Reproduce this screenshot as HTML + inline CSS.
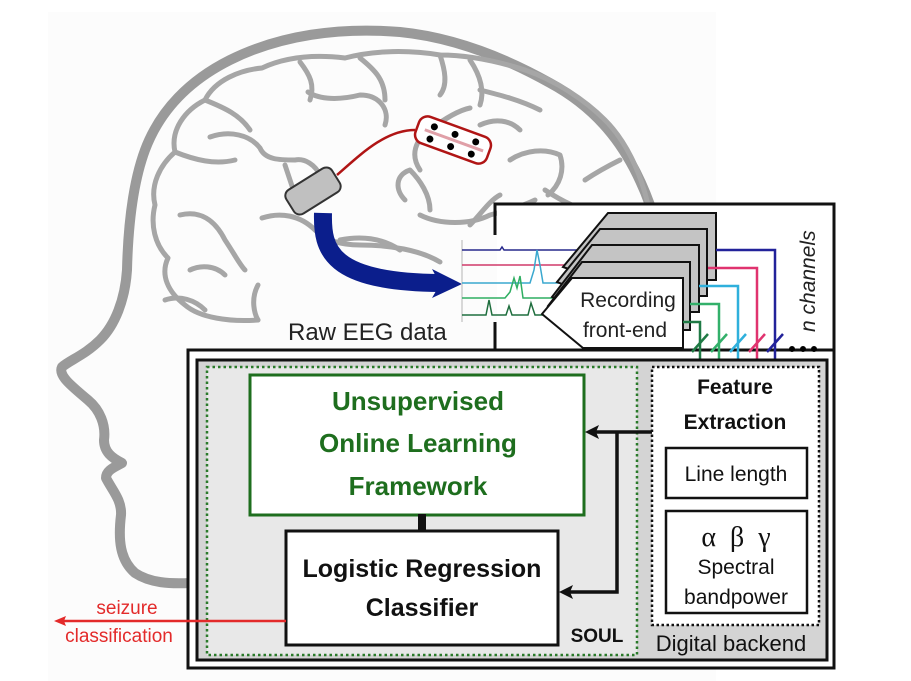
<!DOCTYPE html>
<html><head><meta charset="utf-8"><style>
html,body{margin:0;padding:0;background:#fff;}
svg{display:block;}
text{font-family:"Liberation Sans",sans-serif;}
text.serif{font-family:"Liberation Serif",serif;}
</style></head><body>
<svg width="911" height="681" viewBox="0 0 911 681" xmlns="http://www.w3.org/2000/svg">
<rect x="0" y="0" width="911" height="681" fill="#fff"/>
<rect x="48" y="12" width="668" height="669" fill="#fcfcfc"/>
<!-- head -->
<path d="M650,205 C630,150 600,110 550,83 C500,55 450,37 400,32 C340,27 280,35 230,60 C190,80 160,110 145,150 C132,185 128,230 127,270 C125,300 115,325 100,340 C85,355 70,360 62,367 C58,375 70,385 88,400 C100,410 106,425 104,440 C104,452 112,458 122,463 C115,467 106,470 106,478 C112,490 122,500 121,515 C118,540 120,560 135,573 C150,583 170,584 190,583" fill="none" stroke="#9a9a9a" stroke-width="10" stroke-linecap="round" stroke-linejoin="round"/>
<!-- brain outline -->
<g fill="none" stroke="#a6a6a6" stroke-width="5" stroke-linecap="round" stroke-linejoin="round">
<path d="M258,320 C230,322 200,318 185,305 C168,292 160,275 168,258 C155,245 150,225 155,205 C150,185 160,165 175,152 C170,130 185,110 205,100 C215,80 240,70 262,68 C290,55 320,55 345,58 C375,50 410,50 440,55 C470,55 500,62 525,70 C555,80 585,100 605,120 C625,140 640,170 648,205"/>
<path d="M258,285 C250,300 255,315 258,320"/>
<path d="M175,152 C195,160 215,165 235,160"/>
<path d="M205,100 C225,108 240,115 250,130"/>
<path d="M300,62 C310,75 315,85 310,100"/>
<path d="M308,92 C320,100 340,100 360,95 C380,95 390,110 385,125"/>
<path d="M360,58 C375,70 385,80 385,100"/>
<path d="M440,55 C445,70 448,85 440,95"/>
<path d="M470,60 C480,75 485,90 480,105"/>
<path d="M210,137 C230,130 250,135 260,148 C265,160 280,160 295,160 C305,158 315,165 320,175"/>
<path d="M285,165 C290,180 295,195 300,210"/>
<path d="M180,215 C200,210 215,220 225,240 C235,255 240,265 245,270"/>
<path d="M190,270 C200,265 215,265 225,275"/>
<path d="M165,300 C180,295 195,300 205,310"/>
<path d="M262,218 C280,212 300,215 315,230 C325,240 340,245 360,245 C390,245 420,250 440,262"/>
<path d="M340,240 C365,235 385,240 400,250"/>
<path d="M420,170 C410,155 415,140 430,130 C445,118 460,110 470,108"/>
<path d="M405,200 C395,190 395,175 410,170 C420,180 430,195 430,210"/>
<path d="M420,215 C440,225 470,225 490,215 C510,210 525,205 535,200"/>
<path d="M470,225 C480,215 490,200 500,195"/>
<path d="M480,125 C495,118 510,120 520,130"/>
<path d="M510,160 C525,150 545,148 560,155 C565,170 560,185 548,195"/>
<path d="M545,190 C560,200 580,210 600,215"/>
<path d="M585,180 C600,170 610,165 620,160"/>
<path d="M480,90 C500,95 520,100 540,110"/>
</g>
<!-- blue arrow -->
<path d="M323,213 C322,250 330,282 440,283" fill="none" stroke="#0b1e8c" stroke-width="18"/>
<polygon points="432,269 462,284 432,298 440,284" fill="#0b1e8c"/>
<!-- device -->
<g transform="translate(313,191) rotate(-32)"><rect x="-27" y="-14" width="54" height="28" rx="7" fill="#c0c0c0" stroke="#333" stroke-width="2"/></g>
<path d="M337,175 C360,155 385,130 415,130" fill="none" stroke="#b01515" stroke-width="2.5"/>
<g transform="translate(453,140) rotate(20)">
<rect x="-38" y="-14" width="76" height="28" rx="9" fill="#fff" stroke="#b01515" stroke-width="2.5"/>
<line x1="-30" y1="0" x2="32" y2="0" stroke="#e0a0a8" stroke-width="3"/>
<circle cx="-22" cy="-6" r="3.5"/><circle cx="0" cy="-6" r="3.5"/><circle cx="22" cy="-6" r="3.5"/>
<circle cx="-22" cy="7" r="3.5"/><circle cx="0" cy="7" r="3.5"/><circle cx="22" cy="7" r="3.5"/>
</g>
<!-- top box -->
<rect x="497" y="205" width="337" height="145" fill="#fff"/>
<path d="M495,235 L495,204 L834,204 L834,350" fill="none" stroke="#111" stroke-width="3"/>
<path d="M495,322 L495,350 L188,350" fill="none" stroke="#111" stroke-width="3"/>
<rect x="188" y="350" width="646" height="318" fill="#fff" stroke="#111" stroke-width="3"/>
<line x1="462" y1="240" x2="462" y2="322" stroke="#ccc" stroke-width="1.5"/>
<text x="288" y="340" font-size="24" fill="#222">Raw EEG data</text>
<!-- traces -->
<g fill="none" stroke-width="1.5">
<path d="M462,250 L500,250 L502,247 L504,250 L580,250" stroke="#27288c"/>
<path d="M462,265 L580,265" stroke="#d03a6a"/>
<path d="M462,283 L530,283 L534,270 L537,250 L540,265 L543,283 L580,283" stroke="#3aa8cf"/>
<path d="M462,298 L505,298 L510,292 L514,278 L517,288 L520,276 L523,298 L580,298" stroke="#2fae62"/>
<path d="M462,315 L486,315 L489,300 L492,315 L506,315 L509,306 L512,315 L528,315 L531,303 L535,315 L560,315" stroke="#1f6e3e"/>
</g>
<!-- front-end stack -->
<g fill="#c4c4c4" stroke="#111" stroke-width="2">
<polygon points="563,267 608,213 716,213 716,280 600,280"/>
<polygon points="557,282 600,229 707,229 707,296 594,296"/>
<polygon points="552,297 592,245 699,245 699,312 588,312"/>
<polygon points="548,306 582,262 690,262 690,330 583,330"/>
</g>
<polygon points="542,314 572,278 683,278 683,348 583,348" fill="#fff" stroke="#111" stroke-width="2"/>
<text x="628" y="307" font-size="21" text-anchor="middle" fill="#222">Recording</text>
<text x="625" y="337" font-size="21" text-anchor="middle" fill="#222">front-end</text>
<!-- channel wires -->
<g fill="none" stroke-width="2.5">
<path d="M716,250 L775,250 L775,362" stroke="#22229a"/>
<path d="M708,268 L757,268 L757,362" stroke="#e0336f"/>
<path d="M699,286 L738,286 L738,362" stroke="#2fb0dc"/>
<path d="M690,304 L719,304 L719,362" stroke="#33b06a"/>
<path d="M683,322 L700,322 L700,362" stroke="#1f7a45"/>
<path d="M692,352 L708,334" stroke="#1f7a45"/>
<path d="M711,352 L727,334" stroke="#33b06a"/>
<path d="M730,352 L746,334" stroke="#2fb0dc"/>
<path d="M749,352 L765,334" stroke="#e0336f"/>
<path d="M767,352 L783,334" stroke="#22229a"/>
</g>
<circle cx="792" cy="349" r="3"/><circle cx="803" cy="349" r="3"/><circle cx="814" cy="349" r="3"/>
<text transform="translate(815,332) rotate(-90)" font-size="21" font-style="italic" fill="#222">n channels</text>
<!-- lower -->
<rect x="197" y="360" width="630" height="300" fill="#d4d4d4" stroke="#111" stroke-width="3"/>
<rect x="207" y="367" width="430" height="288" fill="#e8e8e8" stroke="#2a7a2a" stroke-width="2.5" stroke-dasharray="2.5,3"/>
<rect x="652" y="367" width="167" height="258" fill="#fff" stroke="#111" stroke-width="2.5" stroke-dasharray="2.5,2.5"/>
<rect x="250" y="375" width="334" height="140" fill="#fff" stroke="#1e6e1e" stroke-width="3"/>
<g font-weight="bold" fill="#1e6e1e" font-size="26" text-anchor="middle">
<text x="418" y="410">Unsupervised</text>
<text x="418" y="452">Online Learning</text>
<text x="418" y="495">Framework</text>
</g>
<rect x="418" y="514" width="8" height="18" fill="#111"/>
<rect x="286" y="531" width="272" height="114" fill="#fff" stroke="#111" stroke-width="3"/>
<g font-weight="bold" fill="#111" font-size="25" text-anchor="middle">
<text x="422" y="577">Logistic Regression</text>
<text x="422" y="616">Classifier</text>
</g>
<text x="597" y="642" font-weight="bold" font-size="19" text-anchor="middle" fill="#111">SOUL</text>
<text x="731" y="651" font-size="22" text-anchor="middle" fill="#111">Digital backend</text>
<g font-weight="bold" fill="#111" font-size="21" text-anchor="middle">
<text x="735" y="394">Feature</text>
<text x="735" y="429">Extraction</text>
</g>
<rect x="666" y="448" width="141" height="50" fill="#fff" stroke="#111" stroke-width="2.5"/>
<text x="736" y="481" font-size="21" text-anchor="middle" fill="#111">Line length</text>
<rect x="666" y="511" width="141" height="102" fill="#fff" stroke="#111" stroke-width="2.5"/>
<text class="serif" x="736" y="546" font-size="28" text-anchor="middle" fill="#111">α&#160;&#160;β&#160;&#160;γ</text>
<text x="736" y="574" font-size="21" text-anchor="middle" fill="#111">Spectral</text>
<text x="736" y="604" font-size="21" text-anchor="middle" fill="#111">bandpower</text>
<!-- arrows -->
<path d="M652,432 L596,432 M617,432 L617,592 L570,592" fill="none" stroke="#111" stroke-width="3.5"/>
<polygon points="585,432 599,425 596,432 599,439" fill="#111"/>
<polygon points="559,592 573,585 570,592 573,599" fill="#111"/>
<line x1="286" y1="621" x2="62" y2="621" stroke="#e32a2a" stroke-width="2.5"/>
<polygon points="54,621 66,616 64,621 66,626" fill="#e32a2a"/>
<text x="127" y="614" font-size="19" text-anchor="middle" fill="#e32a2a">seizure</text>
<text x="119" y="642" font-size="19" text-anchor="middle" fill="#e32a2a">classification</text>
</svg>
</body></html>
